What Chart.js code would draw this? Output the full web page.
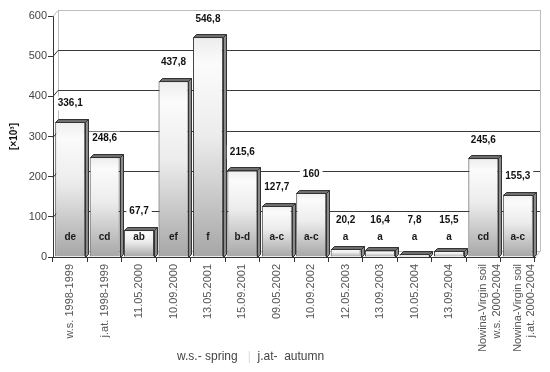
<!DOCTYPE html>
<html>
<head>
    <title>Bar chart</title>
    <script src="https://cdnjs.cloudflare.com/ajax/libs/Chart.js/4.4.0/chart.umd.min.js"></script>
    <style>
        body {
            margin: 0;
            background-color: white;
            font-family: Arial, "Liberation Sans", sans-serif;
        }
        .wrap {
            position: relative;
            width: 550px;
            height: 372px;
        }
        .note {
            position: absolute;
            top: 349px;
            left: 177px;
            font-size: 12px;
            color: #444;
            white-space: pre;
        }
        .note .sep {
            color: #ddd;
        }
    </style>
</head>
<body>
    <div class="wrap">
        <canvas id="barChart" width="550" height="372"></canvas>
        <div class="note">w.s.- spring   <span class="sep">|</span>  j.at-  autumn</div>
    </div>

    <script>
        const categories = [
            'w.s. 1998-1999', 'j.at. 1998-1999', '11.05.2000', '10.09.2000', '13.05.2001',
            '15.09.2001', '09.05.2002', '10.09.2002', '12.05.2003', '13.09.2003',
            '10.05.2004', '13.09.2004',
            ['Nowina-Virgin soil', 'w.s. 2000-2004'],
            ['Nowina-Virgin soil', 'j.at. 2000-2004']
        ];
        const values = [336.1, 248.6, 67.7, 437.8, 546.8, 215.6, 127.7, 160, 20.2, 16.4, 7.8, 15.5, 245.6, 155.3];
        const groups = ['de', 'cd', 'ab', 'ef', 'f', 'b-d', 'a-c', 'a-c', 'a', 'a', 'a', 'a', 'cd', 'a-c'];
        const yTicks = [0, 100, 200, 300, 400, 500, 600];

        const FONT = 'Arial, "Liberation Sans", sans-serif';
        const DX = 5, DY = 6;      // depth of the back wall
        const BD = 3;              // depth of each bar

        function barFill(context) {
            const chart = context.chart;
            const area = chart.chartArea;
            if (!area || context.dataIndex === undefined) return '#d0d0d0';
            const top = chart.scales.y.getPixelForValue(values[context.dataIndex]);
            const g = chart.ctx.createLinearGradient(0, top, 0, area.bottom);
            g.addColorStop(0, '#ededed');
            g.addColorStop(0.12, '#fbfbfb');
            g.addColorStop(0.45, '#ececec');
            g.addColorStop(1, '#a6a6a6');
            return g;
        }

        // back wall with offset grid lines
        const wallPlugin = {
            id: 'wall',
            beforeDatasetsDraw(chart) {
                const ctx = chart.ctx;
                const a = chart.chartArea;
                const y = chart.scales.y;
                ctx.save();
                ctx.lineWidth = 1;
                // side and back edges
                ctx.strokeStyle = '#bdbdbd';
                ctx.beginPath();
                ctx.moveTo(a.left + DX + 0.5, y.getPixelForValue(600) - DY);
                ctx.lineTo(a.left + DX + 0.5, a.bottom - DY);
                ctx.moveTo(a.right + DX + 0.5, y.getPixelForValue(600) - DY);
                ctx.lineTo(a.right + DX + 0.5, a.bottom - DY);
                ctx.lineTo(a.right + 0.5, a.bottom);
                ctx.moveTo(a.left + DX, a.bottom - DY + 0.5);
                ctx.lineTo(a.right + DX, a.bottom - DY + 0.5);
                ctx.stroke();
                yTicks.forEach(v => {
                    if (v === 0) return;
                    const py = Math.round(y.getPixelForValue(v));
                    ctx.strokeStyle = v === 600 ? '#bdbdbd' : '#3a3a3a';
                    ctx.beginPath();
                    ctx.moveTo(a.left, py + 0.5);
                    ctx.lineTo(a.left + DX, py - DY + 0.5);
                    ctx.lineTo(a.right + DX, py - DY + 0.5);
                    ctx.stroke();
                });
                ctx.restore();
            }
        };

        // bar tops, sides and labels
        const barLabelPlugin = {
            id: 'barLabels',
            afterDatasetsDraw(chart) {
                const ctx = chart.ctx;
                const meta = chart.getDatasetMeta(0);
                ctx.save();
                meta.data.forEach((bar, i) => {
                    const l = Math.round(bar.x - bar.width / 2) + 0.5;
                    const r = Math.round(bar.x + bar.width / 2) + 0.5;
                    const t = Math.round(bar.y) + 0.5;
                    const b = Math.round(bar.base) + 0.5;
                    ctx.strokeStyle = '#333';
                    ctx.lineWidth = 1;
                    // top face
                    ctx.fillStyle = '#6e6e6e';
                    ctx.beginPath();
                    ctx.moveTo(l, t);
                    ctx.lineTo(l + BD, t - BD);
                    ctx.lineTo(r + BD, t - BD);
                    ctx.lineTo(r, t);
                    ctx.closePath();
                    ctx.fill();
                    ctx.stroke();
                    // side face
                    ctx.fillStyle = '#8a8a8a';
                    ctx.beginPath();
                    ctx.moveTo(r, t);
                    ctx.lineTo(r + BD, t - BD);
                    ctx.lineTo(r + BD, b - BD);
                    ctx.lineTo(r, b);
                    ctx.closePath();
                    ctx.fill();
                    ctx.stroke();
                });

                ctx.font = 'bold 10px ' + FONT;
                ctx.textAlign = 'center';
                ctx.textBaseline = 'middle';
                meta.data.forEach((bar, i) => {
                    const text = String(values[i]).replace('.', ',');
                    const ly = Math.min(bar.y - 18.5, 220);
                    const w = ctx.measureText(text).width;
                    ctx.fillStyle = '#ffffff';
                    ctx.fillRect(bar.x - w / 2 - 3, ly - 7, w + 6, 14);
                    ctx.fillStyle = '#111';
                    ctx.fillText(text, bar.x, ly);
                    ctx.fillStyle = '#1a1a1a';
                    ctx.fillText(groups[i], bar.x, 237);
                });
                ctx.restore();
            }
        };

        new Chart(document.getElementById('barChart'), {
            type: 'bar',
            data: {
                labels: categories,
                datasets: [{
                    data: values,
                    backgroundColor: barFill,
                    borderColor: '#333',
                    borderWidth: 1,
                    barPercentage: 0.87,
                    categoryPercentage: 1
                }]
            },
            options: {
                responsive: false,
                animation: false,
                layout: { padding: { top: 16, right: 15, left: 0, bottom: 0 } },
                plugins: {
                    legend: { display: false },
                    tooltip: { enabled: false }
                },
                scales: {
                    x: {
                        afterFit(scale) { scale.height = 115; },
                        grid: {
                            offset: true,
                            drawOnChartArea: false,
                            tickLength: 5,
                            color: '#333'
                        },
                        border: { color: '#333' },
                        ticks: {
                            autoSkip: false,
                            minRotation: 90,
                            maxRotation: 90,
                            padding: 2,
                            color: '#555',
                            font: { family: FONT, size: 11 }
                        }
                    },
                    y: {
                        min: 0,
                        max: 600,
                        afterFit(scale) { scale.width = 53; },
                        afterBuildTicks(scale) {
                            scale.ticks = yTicks.map(v => ({ value: v }));
                        },
                        grid: {
                            drawOnChartArea: false,
                            tickLength: 5,
                            color: '#333'
                        },
                        border: { color: '#333' },
                        ticks: {
                            padding: 1,
                            color: '#444',
                            font: { family: FONT, size: 11 }
                        },
                        title: {
                            display: true,
                            text: '[×10³]',
                            color: '#111',
                            padding: { top: 8, bottom: 0 },
                            font: { family: FONT, size: 10, weight: 'bold' }
                        }
                    }
                }
            },
            plugins: [wallPlugin, barLabelPlugin]
        });
    </script>
</body>
</html>
